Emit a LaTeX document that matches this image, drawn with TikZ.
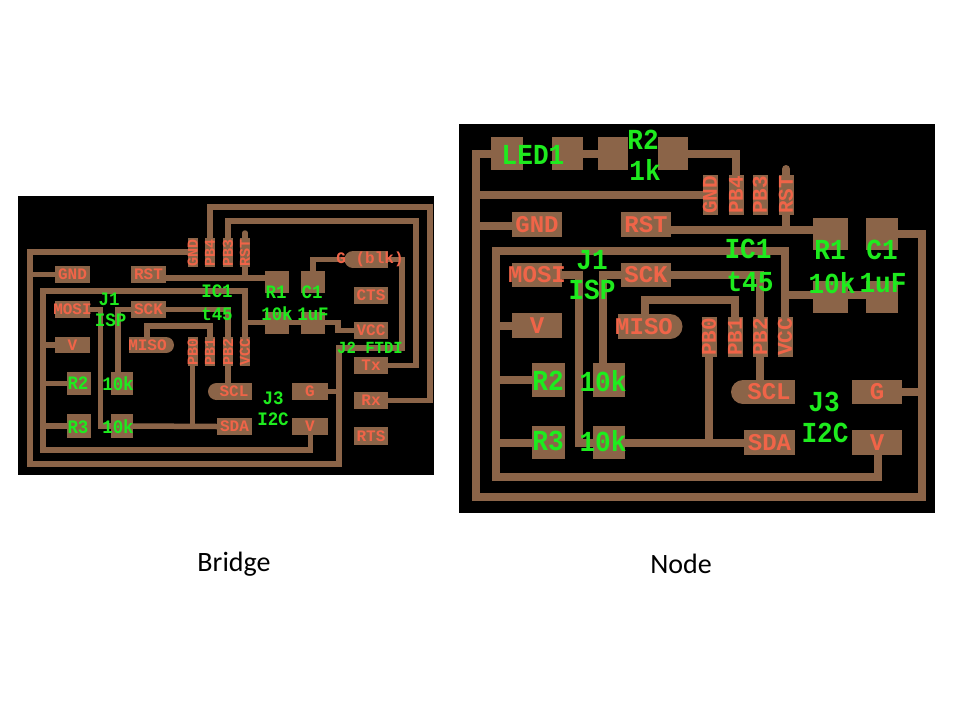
\documentclass[tikz,border=0pt]{standalone}
\usepackage{fontspec}
\setmainfont{Carlito}
\newfontfamily\pcbf{Liberation Mono}
\definecolor{cu}{RGB}{139,100,72}
\definecolor{redt}{RGB}{240,100,72}
\definecolor{grn}{RGB}{30,235,30}
\tikzset{
 padbox/.style={fill=cu,inner sep=0pt,outer sep=0pt,text=redt},
 padb/.style={padbox,font=\pcbf\bfseries\fontsize{16}{16}\selectfont},
 padn/.style={padbox,font=\pcbf\bfseries\fontsize{24}{24}\selectfont},
 pinb/.style={padbox,font=\pcbf\bfseries\fontsize{15}{15}\selectfont},
 pinn/.style={padbox,font=\pcbf\bfseries\fontsize{21}{21}\selectfont},
 tb/.style={draw=cu,line width=5.5pt,line join=miter},
 tn/.style={draw=cu,line width=8pt,line join=miter},
 lb/.style={text=grn,inner sep=0pt,font=\pcbf\bfseries\fontsize{19}{19}\selectfont,xscale=.92},
 ln/.style={text=grn,inner sep=0pt,font=\pcbf\bfseries\fontsize{29}{29}\selectfont,xscale=.9},
 capt/.style={text=black,inner sep=0pt,font=\fontsize{28}{28}\selectfont}
}
% style, name, x1,y1,x2,y2, text
\newcommand\mypad[7]{\pgfmathsetmacro\cxx{(#3+#5)/2}\pgfmathsetmacro\cyy{(#4+#6)/2}%
 \node[#1,minimum width={(#5-#3)*1pt},minimum height={(#6-#4)*1pt}] (#2) at (\cxx,\cyy) {\makebox[0pt][c]{#7}};}
% style, name, x, y1, y2, width, text
\newcommand\mypin[7]{\pgfmathsetmacro\cyy{(#4+#5)/2}%
 \node[#1,minimum width=#6pt,minimum height={(#5-#4)*1pt}] (#2) at (#3,\cyy) {\rotatebox{90}{\makebox[0pt][c]{#7}}};}
\begin{document}
\begin{tikzpicture}[x=1pt,y=-1pt]
\useasboundingbox (0,0) rectangle (960,720);
\fill[white] (0,0) rectangle (960,720);
\fill[black] (18,196) rectangle (434,475);
\fill[black] (459,124) rectangle (935,513);
%% ---------- Bridge
\fill[cu] (166,345) circle (8);
\fill[cu] (216.5,391.5) circle (8.5);
\fill[cu] (353,259.5) circle (8.5);
\mypad{padb}{bGND}{55}{266}{90}{283}{GND}
\mypad{padb}{bRST}{131}{266}{166}{283}{RST}
\mypad{padb}{bMOSI}{55}{301}{90}{318}{MOSI}
\mypad{padb}{bSCK}{131}{301}{166}{318}{SCK}
\mypad{padb}{bV}{55}{337}{90}{353}{V}
\mypad{padb}{bMISO}{129}{337}{166}{353}{MISO}
\mypad{padb}{bRa}{67}{372}{91}{395}{}
\mypad{padb}{bRb}{111}{372}{133}{395}{}
\mypad{padb}{bRc}{67}{414}{91}{438}{}
\mypad{padb}{bRd}{111}{414}{133}{438}{}
\mypad{padb}{bSCL}{216}{383}{252}{400}{SCL}
\mypad{padb}{bSDA}{217}{418}{252}{435}{SDA}
\mypad{padb}{bG}{292}{383}{328}{400}{G}
\mypad{padb}{bVb}{292}{418}{328}{435}{V}
\mypad{padb}{bR1t}{265}{271}{289}{293}{}
\mypad{padb}{bR1b}{265}{312}{289}{334}{}
\mypad{padb}{bC1t}{301}{271}{325}{293}{}
\mypad{padb}{bC1b}{301}{312}{325}{334}{}
\mypad{padb}{bGk}{353}{251}{388}{268}{}
\mypad{padb}{bCTS}{354}{287}{388}{304}{CTS}
\mypad{padb}{bVCC}{354}{322}{388}{339}{VCC}
\mypad{padb}{bTx}{354}{357}{388}{374}{Tx}
\mypad{padb}{bRx}{354}{392}{388}{409}{Rx}
\mypad{padb}{bRTS}{354}{427}{388}{445}{RTS}
\mypin{pinb}{bpGND}{192.7}{238}{267}{10}{GND}
\mypin{pinb}{bpPB4}{210}{238}{267}{10}{PB4}
\mypin{pinb}{bpPB3}{228}{238}{267}{10}{PB3}
\mypin{pinb}{bpRST}{245}{238}{267}{10}{RST}
\mypin{pinb}{bpPB0}{192.7}{337}{366}{10}{PB0}
\mypin{pinb}{bpPB1}{210}{337}{366}{10}{PB1}
\mypin{pinb}{bpPB2}{228}{337}{366}{10}{PB2}
\mypin{pinb}{bpVCC}{245}{337}{366}{10}{VCC}
\draw[tb] (bpGND.west |- 0,252) -- (30,252) -- (30,464) -- (339,464) -- (339,348) -- (402,348) -- (402,259.5) -- (bGk.east);
\draw[tb] (bGND.west) -- (30,274.5);
\draw[tb] (bG.east) -- (339,391.5);
\draw[tb] (bpVCC.north) -- (245,291) -- (43,291) -- (43,450) -- (310.7,450) -- (bVb.south -| 310.7,0);
\draw[tb] (bV.west) -- (43,345);
\draw[tb] (bRa.west) -- (43,383.5);
\draw[tb] (bRc.west) -- (43,426);
\draw[tb] (245,322.7) -- (bR1b.west |- 0,322.7);
\draw[tb] (bR1b.east |- 0,322.7) -- (bC1b.west |- 0,322.7);
\draw[tb] (bC1b.east |- 0,322.7) -- (338,322.7) -- (338,330.5) -- (bVCC.west);
\draw[tb] (bRST.east |- 0,278) -- (bR1t.west |- 0,278);
\draw[tb,line cap=round] (bpRST.north) -- (245,233);
\draw[tb] (bpRST.south) -- (245,278);
\draw[tb] (bC1t.north) |- (bGk.west);
\draw[tb] (bpPB4.north) -- (210,207) -- (430,207) |- (bRx.east);
\draw[tb] (bpPB3.north) -- (228,221) -- (416,221) |- (bTx.east);
\draw[tb] (bMOSI.east) -- (100.7,309.5) -- (100.7,426) -- (bRd.west);
\draw[tb] (bSCK.west) -- (118,309.5) -- (bRb.north -| 118,0);
\draw[tb] (bSCK.east) -- (228,309.5) -- (bpPB2.north);
\draw[tb] (bpPB2.south) -- (bSCL.north -| 228,0);
\draw[tb] (bMISO.north -| 147,0) -- (147,326) -- (210,326) -- (bpPB1.north);
\draw[tb] (bRd.east) -- (bSDA.west);
\draw[tb] (bpPB0.south) -- (192.7,426);
\node[padb,fill=none] (bGkt) at (370,259.5) {G (blk)};
\node[lb] (bt1) at (109,299) {J1};
\node[lb] (bt2) at (110.7,320) {ISP};
\node[lb] (bt3) at (217,291) {IC1};
\node[lb] (bt4) at (217,314) {t45};
\node[lb] (bt5) at (276,292) {R1};
\node[lb] (bt6) at (277,314) {10k};
\node[lb] (bt7) at (312,292) {C1};
\node[lb] (bt8) at (313,314) {1uF};
\node[lb,font=\pcbf\bfseries\fontsize{17}{17}\selectfont] (bt9) at (370,348) {J2 FTDI};
\node[lb] (bt10) at (273,398) {J3};
\node[lb] (bt11) at (273,419) {I2C};
\node[lb] (bt12) at (78,383) {R2};
\node[lb] (bt13) at (118,384) {10k};
\node[lb] (bt14) at (78,427) {R3};
\node[lb] (bt15) at (118,427) {10k};
%% ---------- Node
\fill[cu] (670,326.5) circle (12.5);
\fill[cu] (743,392) circle (12);
\mypad{padn}{nLa}{491}{137}{523}{170}{}
\mypad{padn}{nLb}{552}{137}{583}{170}{}
\mypad{padn}{nRa}{598}{137}{628}{170}{}
\mypad{padn}{nRb}{658}{137}{688}{170}{}
\mypad{padn}{nGND}{512}{212}{562}{237}{GND}
\mypad{padn}{nRST}{621}{212}{671}{237}{RST}
\mypad{padn}{nMOSI}{512}{263}{562}{287}{MOSI}
\mypad{padn}{nSCK}{621}{263}{671}{287}{SCK}
\mypad{padn}{nV}{512}{313}{562}{338}{V}
\mypad{padn}{nMISO}{618}{314}{670}{339}{MISO}
\mypad{padn}{nQa}{532}{363}{565}{397}{}
\mypad{padn}{nQb}{593}{363}{625}{397}{}
\mypad{padn}{nQc}{532}{426}{565}{459}{}
\mypad{padn}{nQd}{593}{426}{625}{459}{}
\mypad{padn}{nSCL}{743}{380}{795}{404}{SCL}
\mypad{padn}{nSDA}{744}{430}{795}{455}{SDA}
\mypad{padn}{nG}{852}{380}{902}{404}{G}
\mypad{padn}{nVb}{852}{430}{902}{455}{V}
\mypad{padn}{nR1t}{813}{218}{848}{250}{}
\mypad{padn}{nR1b}{813}{281}{848}{313}{}
\mypad{padn}{nC1t}{866}{218}{898}{250}{}
\mypad{padn}{nC1b}{866}{281}{898}{313}{}
\mypin{pinn}{npGND}{710}{175}{215}{15}{GND}
\mypin{pinn}{npPB4}{736}{175}{215}{15}{PB4}
\mypin{pinn}{npPB3}{760}{175}{215}{15}{PB3}
\mypin{pinn}{npRST}{786}{175}{215}{15}{RST}
\mypin{pinn}{npPB0}{709}{317}{357}{15}{PB0}
\mypin{pinn}{npPB1}{735}{317}{357}{15}{PB1}
\mypin{pinn}{npPB2}{760}{317}{357}{15}{PB2}
\mypin{pinn}{npVCC}{785}{317}{357}{15}{VCC}
\draw[tn] (nLa.west) -- (476,153.5) -- (476,497) -- (922,497) -- (922,234) -- (nC1t.east);
\draw[tn] (476,195) -- (npGND.west |- 0,195);
\draw[tn] (nGND.west |- 0,226) -- (476,226);
\draw[tn] (nG.east) -- (922,392);
\draw[tn] (nLb.east) -- (nRa.west);
\draw[tn] (nRb.east) -- (736,153.5) -- (npPB4.north);
\draw[tn] (nVb.south -| 878,0) -- (878,477) -- (496,477) -- (496,251) -- (785,251) -- (npVCC.north);
\draw[tn] (nV.west) -- (496,325.5);
\draw[tn] (nQa.west) -- (496,380);
\draw[tn] (nQc.west) -- (496,442.5);
\draw[tn] (785,295) -- (nR1b.west |- 0,295);
\draw[tn] (nR1b.east |- 0,295) -- (nC1b.west |- 0,295);
\draw[tn] (nRST.east |- 0,230) -- (nR1t.west |- 0,230);
\draw[tn,line cap=round] (npRST.north) -- (786,169);
\draw[tn] (npRST.south) -- (786,230);
\draw[tn] (nMOSI.east) -- (579,275) -- (579,442.5) -- (nQd.west);
\draw[tn] (nSCK.west) -- (603,275) -- (nQb.north -| 603,0);
\draw[tn] (nSCK.east) -- (760,275) -- (npPB2.north);
\draw[tn] (npPB2.south) -- (nSCL.north -| 760,0);
\draw[tn] (nMISO.north -| 645,0) -- (645,300) -- (735,300) -- (npPB1.north);
\draw[tn] (nQd.east) -- (nSDA.west);
\draw[tn] (npPB0.south) -- (709,442.5);
\node[ln] (nt1) at (592,260) {J1};
\node[ln] (nt2) at (592,290) {ISP};
\node[ln] (nt3) at (533,155) {LED1};
\node[ln] (nt4) at (643,140) {R2};
\node[ln] (nt5) at (645,170) {1k};
\node[ln] (nt6) at (748,249) {IC1};
\node[ln] (nt7) at (750,282) {t45};
\node[ln] (nt8) at (830,250) {R1};
\node[ln] (nt9) at (832,283) {10k};
\node[ln] (nt10) at (882,250) {C1};
\node[ln] (nt11) at (883,283) {1uF};
\node[ln] (nt12) at (824,402) {J3};
\node[ln] (nt13) at (825,433) {I2C};
\node[ln] (nt14) at (548,381) {R2};
\node[ln] (nt15) at (603,381) {10k};
\node[ln] (nt16) at (548,441) {R3};
\node[ln] (nt17) at (603,441) {10k};
%% ---------- captions
\node[capt] (cap1) at (234,564) {Bridge};
\node[capt] (cap2) at (681,564) {Node};
\end{tikzpicture}
\end{document}
